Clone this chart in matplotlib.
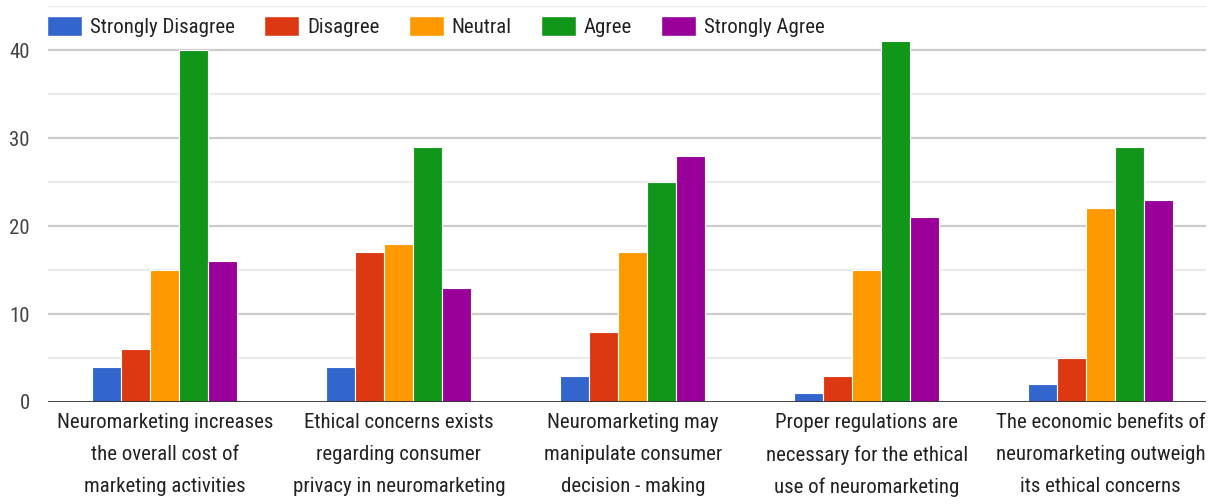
import numpy as np
import matplotlib
matplotlib.use('Agg')
from matplotlib import pyplot as plt
from matplotlib import font_manager
from matplotlib.patches import Patch

# a narrow sans looks closest; fall back to plain Liberation Sans
installed = {f.name for f in font_manager.fontManager.ttflist}
for fam in ['Roboto Condensed', 'Liberation Sans Narrow', 'Arial Narrow']:
    if fam in installed:
        FONT, BIG = fam, 15
        break
else:
    FONT, BIG = 'Liberation Sans', 13
plt.rcParams['font.family'] = [FONT, 'DejaVu Sans']

statements = [
    'Neuromarketing increases\nthe overall cost of\nmarketing activities',
    'Ethical concerns exists\nregarding consumer\nprivacy in neuromarketing',
    'Neuromarketing may\nmanipulate consumer\ndecision - making',
    'Proper regulations are\nnecessary for the ethical\nuse of neuromarketing',
    'The economic benefits of\nneuromarketing outweigh\nits ethical concerns',
]
responses = ['Strongly Disagree', 'Disagree', 'Neutral', 'Agree', 'Strongly Agree']

strongly_disagree = [4, 4, 3, 1, 2]
disagree = [6, 17, 8, 3, 5]
neutral = [15, 18, 17, 15, 22]
agree = [40, 29, 25, 41, 29]
strongly_agree = [16, 13, 28, 21, 23]

colors = ['#3366cc', '#dc3912', '#ff9900', '#109618', '#990099']

series = [strongly_disagree, disagree, neutral, agree, strongly_agree]

fig = plt.figure(figsize=(12.15, 5.04), dpi=100)
ax = fig.add_axes([0.0395, 0.2024, 0.9531, 0.7856])

x = np.arange(len(statements))
w = 0.124
for k, (vals, c) in enumerate(zip(series, colors)):
    ax.bar(x + (k - 2) * w, vals, width=w, color=c, edgecolor='white',
           linewidth=0.8, zorder=3)

ax.set_xlim(-0.5, 4.45)
ax.set_ylim(0, 45)

# major lines every 10, fainter ones in between
for y in range(5, 46, 5):
    if y % 10 == 0:
        ax.axhline(y, color='#cccccc', lw=1.6, zorder=1)
    else:
        ax.axhline(y, color='#ebebeb', lw=1.6, zorder=1)
ax.axhline(0, color='#333333', lw=2, zorder=4)

ax.set_yticks([0, 10, 20, 30, 40])
ax.set_yticklabels(['0', '10', '20', '30', '40'], fontsize=BIG, color='#444444')
ax.set_xticks(x)
ax.set_xticklabels(statements, fontsize=BIG, color='#222222', linespacing=1.85)
ax.tick_params(axis='both', length=0)
ax.tick_params(axis='y', pad=13)
ax.tick_params(axis='x', pad=8)
for s in ax.spines.values():
    s.set_visible(False)

handles = [Patch(facecolor=c, edgecolor='white', label=r) for c, r in zip(colors, responses)]
px = BIG * 100 / 72
fig.legend(handles=handles, loc='center left', bbox_to_anchor=(0.039, 0.948), ncol=5,
           frameon=False, fontsize=BIG, handlelength=35 / px, handleheight=23 / px,
           handletextpad=8 / px, columnspacing=29 / px, borderpad=0, borderaxespad=0,
           labelcolor='#222222')

fig.savefig('out.png', dpi=100, facecolor='white')
